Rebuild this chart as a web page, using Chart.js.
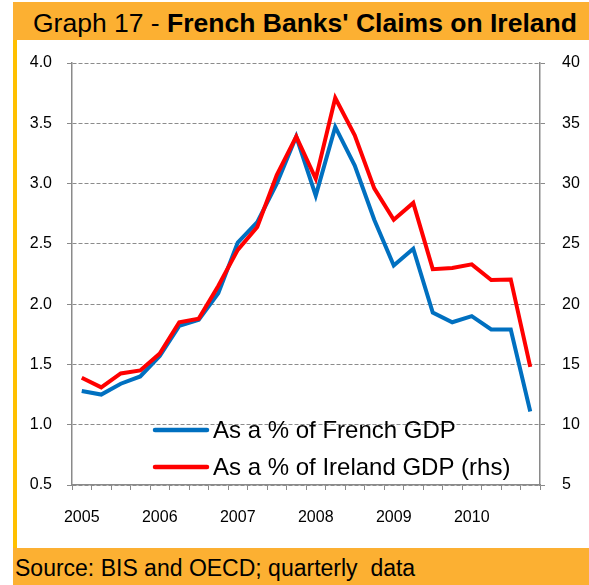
<!DOCTYPE html>
<html>
<head>
<meta charset="utf-8">
<script src="https://cdn.jsdelivr.net/npm/chart.js@4/dist/chart.umd.min.js"></script>
<style>
  body { margin: 0; background: #fff; font-family: 'Liberation Sans', Arial, sans-serif; }
  #wrap { position: relative; width: 589px; height: 585px; overflow: hidden; }
  .bar { position: absolute; left: 13px; width: 576px; background: #fcb032; }
  #head { top: 2px; height: 38px; }
  #foot { top: 548px; height: 37px; }
  #strip { position: absolute; left: 13px; top: 40px; width: 4px; height: 508px; background: #ffc000; }
  #title { position: absolute; left: 33px; top: 4px; line-height: 38px; font-size: 26.5px; white-space: pre; color: #000; }
  #source { position: absolute; left: 15px; top: 550px; line-height: 37px; font-size: 23px; white-space: pre; color: #000; }
  canvas { position: absolute; left: 0; top: 0; }
</style>
</head>
<body>
<div id="wrap">
  <div class="bar" id="head"></div>
  <div id="strip"></div>
  <div class="bar" id="foot"></div>
  <div id="title">Graph 17 - <b>French Banks' Claims on Ireland</b></div>
  <div id="source">Source: BIS and OECD; quarterly  data</div>
  <canvas id="chart" width="589" height="585"></canvas>
</div>
<script>
// quarterly data, 2005Q1 - 2010Q4
const quarters = [
  '2005Q1', '2005Q2', '2005Q3', '2005Q4',
  '2006Q1', '2006Q2', '2006Q3', '2006Q4',
  '2007Q1', '2007Q2', '2007Q3', '2007Q4',
  '2008Q1', '2008Q2', '2008Q3', '2008Q4',
  '2009Q1', '2009Q2', '2009Q3', '2009Q4',
  '2010Q1', '2010Q2', '2010Q3', '2010Q4'
];
// claims as a % of French GDP (left axis)
const pctFrenchGdp = [
  1.28, 1.25, 1.34, 1.40, 1.57, 1.82, 1.87, 2.09,
  2.51, 2.68, 3.00, 3.39, 2.90, 3.47, 3.15, 2.70,
  2.32, 2.46, 1.93, 1.85, 1.90, 1.79, 1.79, 1.11
];
// claims as a % of Ireland GDP (right axis)
const pctIrelandGdp = [
  13.9, 13.1, 14.25, 14.5, 15.9, 18.5, 18.8, 21.5,
  24.5, 26.4, 30.7, 33.9, 30.4, 37.1, 34.0, 29.6,
  27.0, 28.4, 22.9, 23.0, 23.3, 22.0, 22.05, 14.8
];
const leftTicks = { min: 0.5, max: 4.0, step: 0.5 };
const rightTicks = { min: 5, max: 40, step: 5 };

const axisGrey = '#8a8a8a';
const font = 'Liberation Sans, Arial, sans-serif';
Chart.defaults.font.family = font;
Chart.defaults.color = '#000';

// legend drawn inside the plot, like the original
const insideLegend = {
  id: 'insideLegend',
  afterDraw(chart) {
    const ctx = chart.ctx;
    const rows = [chart.data.datasets[0], chart.data.datasets[1]];
    ctx.save();
    ctx.font = '24px ' + font;
    ctx.textBaseline = 'middle';
    ctx.fillStyle = '#000';
    rows.forEach((ds, i) => {
      const y = 430 + i * 37;
      ctx.strokeStyle = ds.borderColor;
      ctx.lineWidth = 4.5;
      ctx.lineCap = 'round';
      ctx.beginPath();
      ctx.moveTo(155, y);
      ctx.lineTo(207, y);
      ctx.stroke();
      ctx.fillText(ds.label, 213, y + 1);
    });
    ctx.restore();
  }
};

new Chart(document.getElementById('chart'), {
  type: 'line',
  data: {
    labels: quarters,
    datasets: [{
      label: 'As a % of French GDP',
      data: pctFrenchGdp,
      borderColor: '#0070c0',
      borderWidth: 4,
      pointRadius: 0,
      yAxisID: 'y',
      order: 1
    }, {
      label: 'As a % of Ireland GDP (rhs)',
      data: pctIrelandGdp,
      borderColor: '#ff0000',
      borderWidth: 4,
      pointRadius: 0,
      yAxisID: 'y1',
      order: 0
    }]
  },
  options: {
    responsive: false,
    animation: false,
    layout: { padding: { top: 63, left: 0, right: 0, bottom: 0 } },
    plugins: { legend: { display: false }, tooltip: { enabled: false } },
    scales: {
      x: {
        offset: true,
        afterFit: (s) => { s.height = 100; },
        grid: { offset: true, drawOnChartArea: false, tickLength: 5, tickColor: axisGrey },
        border: { color: axisGrey, width: 1.5 },
        ticks: {
          autoSkip: false,
          maxRotation: 0,
          padding: 18,
          font: { size: 16 },
          callback: (v, i) => quarters[i].endsWith('Q1') ? quarters[i].slice(0, 4) : ''
        }
      },
      y: {
        position: 'left',
        min: leftTicks.min,
        max: leftTicks.max,
        afterFit: (s) => { s.width = 72; },
        grid: { color: '#8c8c8c', tickLength: 5, tickColor: axisGrey },
        border: { color: axisGrey, width: 1.5, dash: [4, 2] },
        ticks: {
          stepSize: leftTicks.step,
          padding: 15,
          font: { size: 16 },
          callback: (v) => v.toFixed(1)
        }
      },
      y1: {
        position: 'right',
        min: rightTicks.min,
        max: rightTicks.max,
        afterFit: (s) => { s.width = 49; },
        grid: { drawOnChartArea: false, tickLength: 5, tickColor: axisGrey },
        border: { color: axisGrey, width: 1.5 },
        ticks: { stepSize: rightTicks.step, padding: 17, font: { size: 16 } }
      }
    }
  },
  plugins: [insideLegend]
});
</script>
</body>
</html>
